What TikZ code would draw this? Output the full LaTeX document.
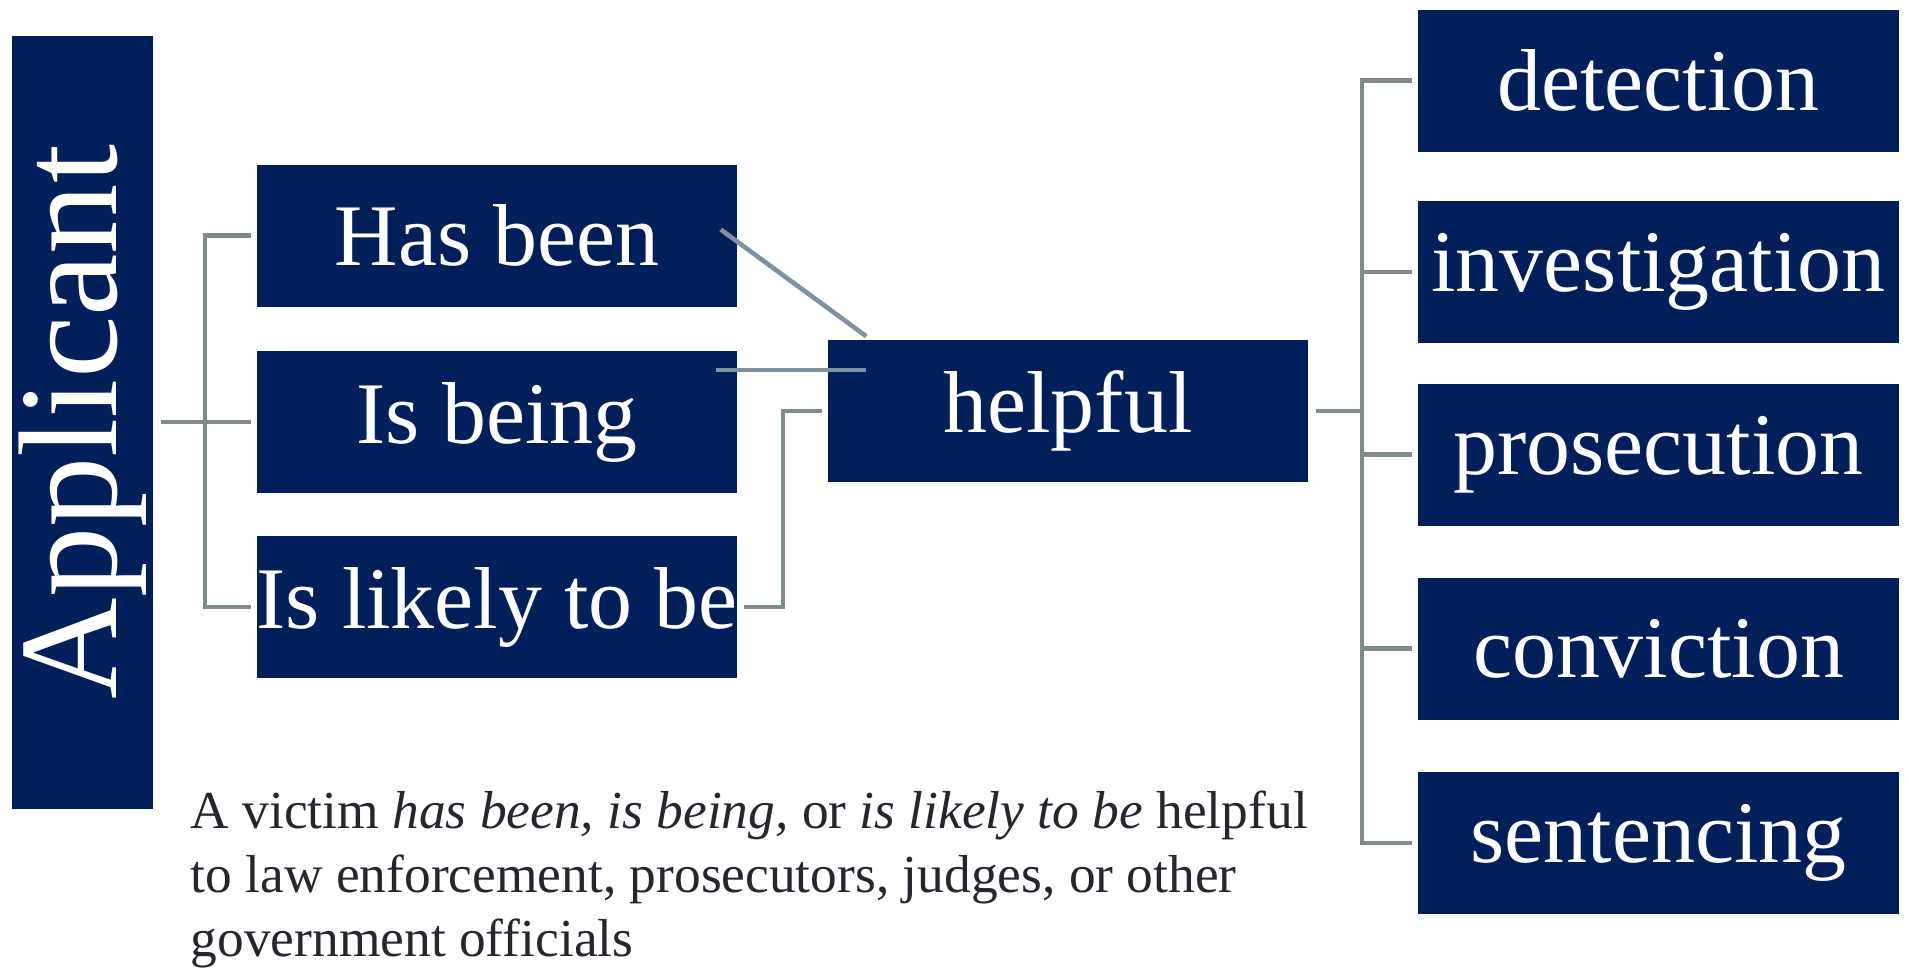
\documentclass[tikz,border=0pt]{standalone}
\usepackage{fontspec}
\setmainfont{Liberation Serif}
\usetikzlibrary{positioning}

\definecolor{navy}{RGB}{1,31,91}
\definecolor{treegray}{RGB}{127,140,132}
\definecolor{linkgray}{RGB}{128,144,163}
\definecolor{notegray}{RGB}{38,38,46}

\tikzset{
  box/.style={rectangle, fill=navy, text=white, inner sep=0pt, minimum height=1.42cm, minimum width=4.8cm, font=\fontsize{25}{30}\selectfont},
  tree/.style={draw=treegray, line width=1.3pt},
  link/.style={draw=linkgray, line width=1.3pt}
}

\begin{document}
\begin{tikzpicture}
      \useasboundingbox (0, 0) rectangle (19.09, -9.69);
    %  \draw[help lines] (0, -10) grid (19, 0);

      \node [box, minimum width=7.73cm, minimum height=1.41cm, rotate=90, font=\fontsize{40}{48}\selectfont] (app) at (0.825, -4.22) {Applicant};

      \node [box] (hasbeen) at (4.97, -2.355) {Has been};
      \node [box] (isbeing) at (4.97, -4.22) {Is being};
      \node [box] (likely)  at (4.97, -6.07) {Is likely to be};

      \node [box] (helpful) at (10.68, -4.11) {helpful};

      \node [box, minimum width=4.81cm] (detect) at (16.585, -0.805) {detection};
      \node [box, minimum width=4.81cm] (invest) at (16.585, -2.72)  {investigation};
      \node [box, minimum width=4.81cm] (prosec) at (16.585, -4.545) {prosecution};
      \node [box, minimum width=4.81cm] (convic) at (16.585, -6.485) {conviction};
      \node [box, minimum width=4.81cm] (senten) at (16.585, -8.43)  {sentencing};

      \node [anchor=north west, align=left, inner sep=0pt, text=notegray, font=\fontsize{15.2}{18.3}\selectfont] (note) at (1.90, -7.90)
        {A victim \textit{has been, is being,} or \textit{is likely to be} helpful\\
         to law enforcement, prosecutors, judges, or other\\
         government officials};

      \coordinate (lb) at (2.05, 0);
      \coordinate (mb) at (7.83, 0);
      \coordinate (rb) at (13.62, 0);

      % app is turned, so its right side is app.south
      \draw[tree] (app.south) ++(0.07, 0) -- ([xshift=-0.5mm]isbeing.west);
      \draw[tree] ([xshift=-0.5mm]hasbeen.west) -| (lb |- likely.west) -- ([xshift=-0.5mm]likely.west);
      \draw[tree] ([xshift=0.6mm]likely.east) -- (mb |- likely.east) |- ([xshift=-0.5mm]helpful.west);

      \draw[link] ([shift={(-0.17,0.06)}]hasbeen.east) -- ([shift={(0.39,0.03)}]helpful.north west);
      \draw[link] ([shift={(-0.22,0.52)}]isbeing.east) -- ([shift={(0.39,0.41)}]helpful.west);

      \draw[tree] ([xshift=0.7mm]helpful.east) -- (rb |- helpful.east);
      \draw[tree] ([xshift=-0.5mm]detect.west) -| (rb |- senten.west) -- ([xshift=-0.5mm]senten.west);
      \foreach \n in {invest, prosec, convic}
        \draw[tree] (rb |- \n.west) -- ([xshift=-0.5mm]\n.west);
    \end{tikzpicture}
\end{document}
